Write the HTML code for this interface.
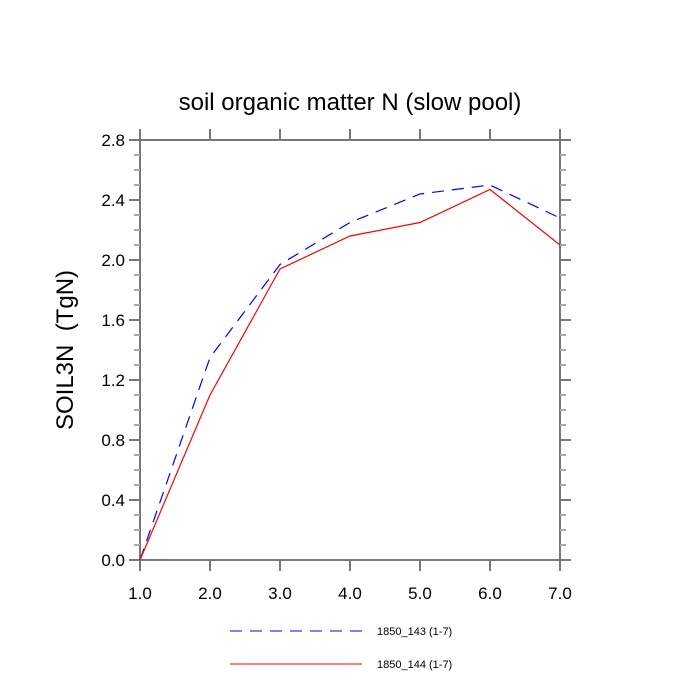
<!DOCTYPE html>
<html><head><meta charset="utf-8"><style>body{margin:0;background:#fff}svg{display:block;font-family:"Liberation Sans",sans-serif}</style></head>
<body>
<svg id="chart" width="700" height="700" viewBox="0 0 700 700">
<text x="350" y="110" text-anchor="middle" font-size="24">soil organic matter N (slow pool)</text>
<text transform="translate(73,350) rotate(-90)" text-anchor="middle" font-size="24">SOIL3N&#160;&#160;(TgN)</text>
<g id="axes"></g>
<g id="series"></g>
<g id="legend"></g>
</svg>
<script>
const xValues=[1,2,3,4,5,6,7];
const series143=[0,1.35,1.97,2.25,2.44,2.5,2.28];
const series144=[0,1.1,1.94,2.16,2.25,2.47,2.1];
const xTicks=["1.0","2.0","3.0","4.0","5.0","6.0","7.0"];
const yTicks=["0.0","0.4","0.8","1.2","1.6","2.0","2.4","2.8"];
const L=140,R=560,T=140,B=560;
const xs=v=>L+(v-1)/6*(R-L);
const ys=v=>B-v/2.8*(B-T);
const NS="http://www.w3.org/2000/svg";
function mk(tag,a,parent){const e=document.createElementNS(NS,tag);for(const k in a)e.setAttribute(k,a[k]);parent.appendChild(e);return e;}
const ax=document.getElementById('axes');
const frame=mk('rect',{x:L,y:T,width:R-L,height:B-T,fill:'none',stroke:'#777',"stroke-width":2},ax);


const tc='#777';
for(let i=0;i<xTicks.length;i++){const x=xs(parseFloat(xTicks[i]));
 mk('line',{x1:x,x2:x,y1:B,y2:B+11,stroke:tc,"stroke-width":2},ax);
 mk('line',{x1:x,x2:x,y1:T,y2:T-11,stroke:tc,"stroke-width":2},ax);
 const t=mk('text',{x:x,y:B+39,"text-anchor":"middle","font-size":17},ax);t.textContent=xTicks[i];
 
 }
for(let i=0;i<yTicks.length;i++){const v=parseFloat(yTicks[i]);const y=ys(v);
 mk('line',{x1:L-11,x2:L,y1:y,y2:y,stroke:tc,"stroke-width":2},ax);
 mk('line',{x1:R,x2:R+11,y1:y,y2:y,stroke:tc,"stroke-width":2},ax);
 if(i<yTicks.length-1)for(let k=1;k<4;k++){const ym=ys(v+k*0.1);
  mk('line',{x1:L-6,x2:L,y1:ym,y2:ym,stroke:'#aaa',"stroke-width":2},ax);
  mk('line',{x1:R,x2:R+6,y1:ym,y2:ym,stroke:'#aaa',"stroke-width":2},ax);}
 const t=mk('text',{x:L-15,y:y+6,"text-anchor":"end","font-size":17},ax);t.textContent=yTicks[i];
 
 }
const sg=document.getElementById('series');
const p1=mk('polyline',{points:xValues.map((x,i)=>xs(x)+','+ys(series143[i])).join(' '),fill:'none',stroke:'#0000ff',"stroke-width":1.2,"stroke-dasharray":"12 8"},sg);


const p2=mk('polyline',{points:xValues.map((x,i)=>xs(x)+','+ys(series144[i])).join(' '),fill:'none',stroke:'#ff0000',"stroke-width":1.2},sg);


const lg=document.getElementById('legend');
const l1=mk('line',{x1:230,x2:362,y1:631,y2:631,stroke:'#0000ff',"stroke-width":1,"stroke-dasharray":"12 8"},lg);


const t1=mk('text',{x:377,y:635,"font-size":11},lg);t1.textContent='1850_143 (1-7)';


const l2=mk('line',{x1:230,x2:362,y1:664,y2:664,stroke:'#ff0000',"stroke-width":1},lg);


const t2=mk('text',{x:377,y:668,"font-size":11},lg);t2.textContent='1850_144 (1-7)';


</script>
</body></html>
